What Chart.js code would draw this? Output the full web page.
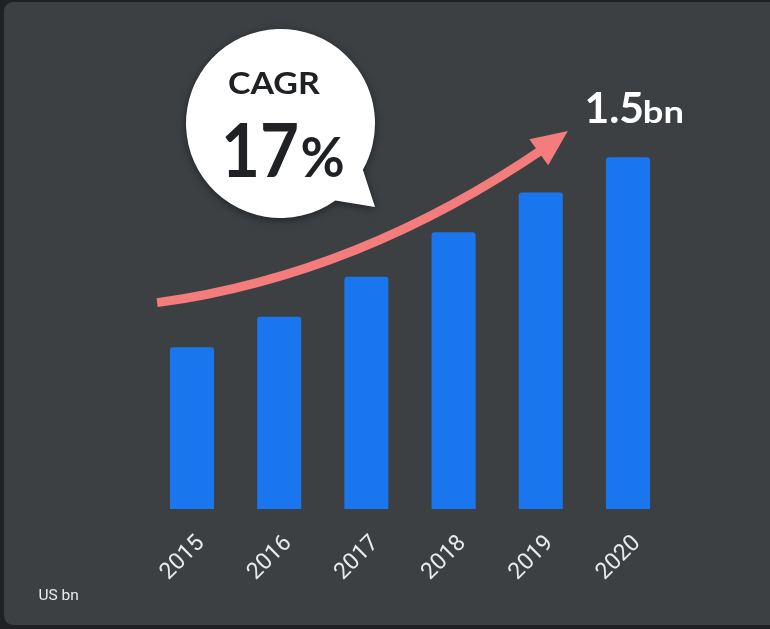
<!DOCTYPE html>
<html><head><meta charset="utf-8">
<script src="https://cdn.jsdelivr.net/npm/chart.js@4/dist/chart.umd.min.js"></script>
<style>
html,body{margin:0;padding:0;background:#202124;width:770px;height:629px;overflow:hidden;}
#card{position:absolute;left:4px;top:2px;width:800px;height:623px;border-radius:9px;background:#3c4043;}
#wrap{position:absolute;left:0;top:0;width:770px;height:629px;}
</style></head><body>
<div id="card"></div>
<div id="wrap"><canvas id="c" width="770" height="629"></canvas></div>
<script>
// ---- data ----
const years = ['2015', '2016', '2017', '2018', '2019', '2020'];
const revenue = [0.69, 0.82, 0.99, 1.18, 1.35, 1.5];
const unitLabel = 'US bn';
const cagrTitle = 'CAGR';
const cagrNumber = '17';
const cagrPercent = '%';
const lastValueText = '1.5';
const lastValueUnit = 'bn';

// annotation anchors in data space (category index, value)
const arrowStart = [-0.4, 0.88];
const arrowCtrl = [1.915, 0.997];
const arrowEnd = [4.06, 1.544];
const arrowTip = [4.31, 1.612];
const bubbleCenter = [1.015, 1.644];

function fitText(ctx, txt, family, weight, left, baseline, w, capH, color) {
  ctx.save();
  ctx.font = weight + ' 100px ' + family;
  const m = ctx.measureText(txt);
  const asc = m.actualBoundingBoxAscent;
  const width = m.actualBoundingBoxLeft + m.actualBoundingBoxRight;
  const size = 100 * capH / asc;
  const sx = w / (width * size / 100);
  ctx.translate(left, baseline);
  ctx.scale(sx, 1);
  ctx.font = weight + ' ' + size + 'px ' + family;
  ctx.fillStyle = color;
  ctx.textBaseline = 'alphabetic';
  ctx.textAlign = 'left';
  ctx.fillText(txt, m.actualBoundingBoxLeft * size / 100, 0);
  ctx.restore();
}

const decor = {
  id: 'decor',
  afterDatasetsDraw(chart) {
    const ctx = chart.ctx;
    const xs = chart.scales.x, ys = chart.scales.y;
    const P = (p) => [xs.getPixelForValue(p[0]), ys.getPixelForValue(p[1])];
    // arrow shaft
    const s = P(arrowStart), c = P(arrowCtrl), e = P(arrowEnd), t = P(arrowTip);
    ctx.save();
    ctx.strokeStyle = '#f47c7c';
    ctx.lineWidth = 9;
    ctx.lineCap = 'butt';
    ctx.beginPath();
    ctx.moveTo(s[0], s[1]);
    ctx.quadraticCurveTo(c[0], c[1], e[0], e[1]);
    ctx.stroke();
    ctx.restore();
    // arrow head
    const dx = t[0] - e[0], dy = t[1] - e[1];
    const len = Math.hypot(dx, dy);
    const ux = dx / len, uy = dy / len;
    const head = 36, half = 16;
    const bx = t[0] - ux * head, by = t[1] - uy * head;
    ctx.save();
    ctx.fillStyle = '#f47c7c';
    ctx.beginPath();
    ctx.moveTo(t[0], t[1]);
    ctx.lineTo(bx - uy * half, by + ux * half);
    ctx.lineTo(bx + uy * half, by - ux * half);
    ctx.closePath();
    ctx.fill();
    ctx.restore();

    // speech bubble
    const b = P(bubbleCenter);
    const r = 94.5;
    const a1 = 54.5 * Math.PI / 180, a2 = 29.4 * Math.PI / 180;
    ctx.save();
    ctx.shadowColor = 'rgba(0,0,0,0.45)';
    ctx.shadowBlur = 8;
    ctx.shadowOffsetY = 2;
    ctx.fillStyle = '#ffffff';
    ctx.beginPath();
    ctx.arc(b[0], b[1], r, a1, a2 + 2 * Math.PI, false);
    ctx.lineTo(b[0] + 94.5, b[1] + 83.5);
    ctx.closePath();
    ctx.fill();
    ctx.restore();

    const fam = 'Lato, "Open Sans", sans-serif';
    fitText(ctx, cagrTitle, fam, '700', b[0] - 51.5, b[1] - 29.5, 91, 22, '#202124');
    fitText(ctx, cagrNumber, fam, '700', b[0] - 55.5, b[1] + 53.5, 72, 55, '#202124');
    fitText(ctx, cagrPercent, fam, '700', b[0] + 21.5, b[1] + 53.5, 41, 40, '#202124');

    // last value label
    const lx = xs.getPixelForValue(5), ly = ys.getPixelForValue(revenue[5]);
    fitText(ctx, lastValueText, fam, '700', lx - 41, ly - 34, 55, 30, '#ffffff');
    fitText(ctx, lastValueUnit, fam, '700', lx + 17, ly - 34, 37, 22, '#ffffff');

    // unit label
    ctx.save();
    ctx.font = '15.5px Roboto, sans-serif';
    ctx.fillStyle = '#e8eaed';
    ctx.textAlign = 'left';
    ctx.textBaseline = 'alphabetic';
    ctx.fillText(unitLabel, 38.5, 600);
    ctx.restore();
  }
};

new Chart(document.getElementById('c'), {
  type: 'bar',
  data: {
    labels: years,
    datasets: [{
      data: revenue,
      backgroundColor: '#1a76ee',
      barPercentage: 0.505,
      categoryPercentage: 1,
      borderRadius: 3,
      borderSkipped: 'start'
    }]
  },
  options: {
    responsive: false,
    animation: false,
    layout: { padding: { left: 148.4, right: 98.4, top: 40, bottom: 40 } },
    plugins: { legend: { display: false }, tooltip: { enabled: false } },
    scales: {
      x: {
        grid: { display: false, drawTicks: false },
        border: { display: false },
        ticks: {
          color: '#e8eaed',
          font: { family: 'Roboto', size: 23 },
          minRotation: 45, maxRotation: 45,
          autoSkip: false,
          labelOffset: 9,
          padding: 21
        },
        afterFit(scale) { scale.height = 80; }
      },
      y: { display: false, min: 0, max: 2 }
    }
  },
  plugins: [decor]
});
</script>
</body></html>
